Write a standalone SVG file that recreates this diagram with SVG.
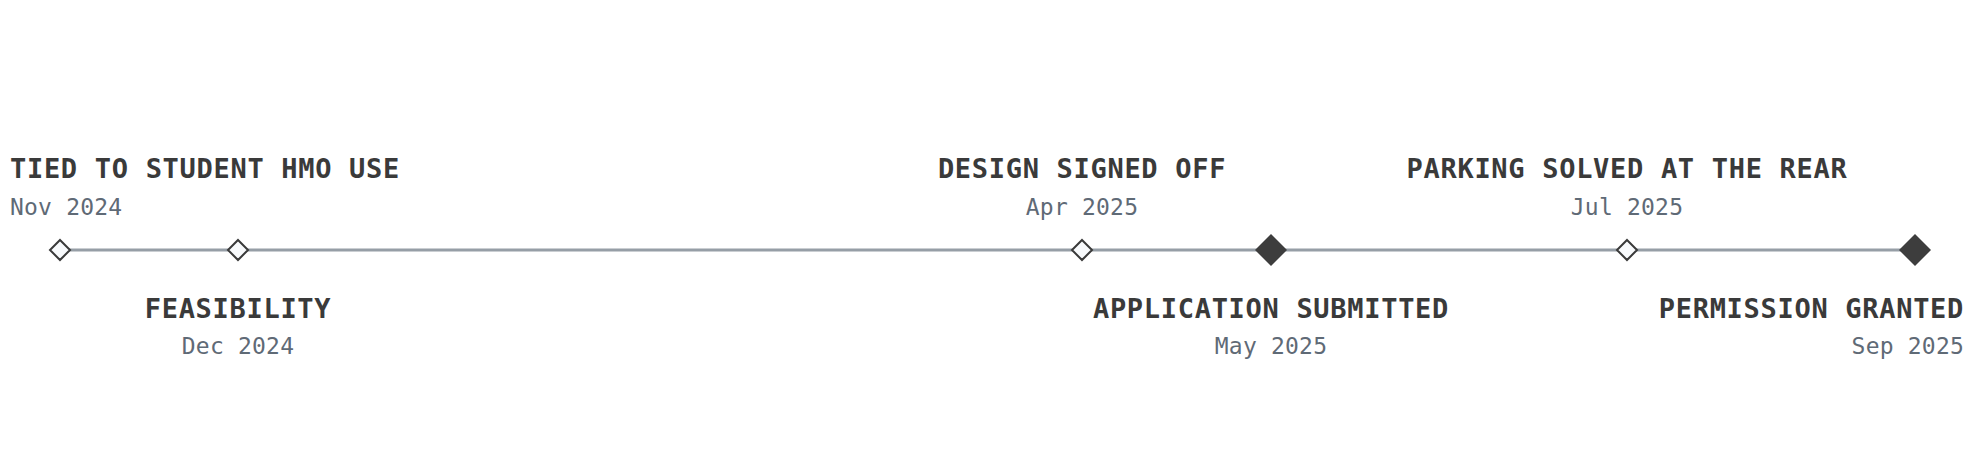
<svg xmlns="http://www.w3.org/2000/svg" width="1975" height="475" viewBox="0 0 1975 475">
<style>
.title{font-family:"DejaVu Sans Mono",monospace;font-weight:bold;font-size:27px;letter-spacing:0.7px;fill:#3a3a3a}
.date{font-family:"DejaVu Sans Mono",monospace;font-size:23px;letter-spacing:0.2px;fill:#5f6a76}
.open{fill:#f8fafc;stroke:#3a3a3a;stroke-width:2}
.filled{fill:#3d3d3d;stroke:none}
.axis{stroke:#969ea6;stroke-width:2.8;fill:none}
</style>
<rect width="1975" height="475" fill="#ffffff"/>
<g id="connectors">
<line class="axis" x1="60" y1="250" x2="1915" y2="250"/>
</g>
<g id="m1">
<path class="open" d="M60 240 L70 250 L60 260 L50 250 Z"/>
<text class="title" x="10" y="178">TIED TO STUDENT HMO USE</text>
<text class="date" x="10" y="215">Nov 2024</text>
</g>
<g id="m2">
<path class="open" d="M238 240 L248 250 L238 260 L228 250 Z"/>
<text class="title" x="238" y="318" text-anchor="middle">FEASIBILITY</text>
<text class="date" x="238" y="354" text-anchor="middle">Dec 2024</text>
</g>
<g id="m3">
<path class="open" d="M1082 240 L1092 250 L1082 260 L1072 250 Z"/>
<text class="title" x="1082" y="178" text-anchor="middle">DESIGN SIGNED OFF</text>
<text class="date" x="1082" y="215" text-anchor="middle">Apr 2025</text>
</g>
<g id="m4">
<path class="filled" d="M1271 234 L1287 250 L1271 266 L1255 250 Z"/>
<text class="title" x="1271" y="318" text-anchor="middle">APPLICATION SUBMITTED</text>
<text class="date" x="1271" y="354" text-anchor="middle">May 2025</text>
</g>
<g id="m5">
<path class="open" d="M1627 240 L1637 250 L1627 260 L1617 250 Z"/>
<text class="title" x="1627" y="178" text-anchor="middle">PARKING SOLVED AT THE REAR</text>
<text class="date" x="1627" y="215" text-anchor="middle">Jul 2025</text>
</g>
<g id="m6">
<path class="filled" d="M1915 234 L1931 250 L1915 266 L1899 250 Z"/>
<text class="title" x="1964" y="318" text-anchor="end">PERMISSION GRANTED</text>
<text class="date" x="1964" y="354" text-anchor="end">Sep 2025</text>
</g>
</svg>
